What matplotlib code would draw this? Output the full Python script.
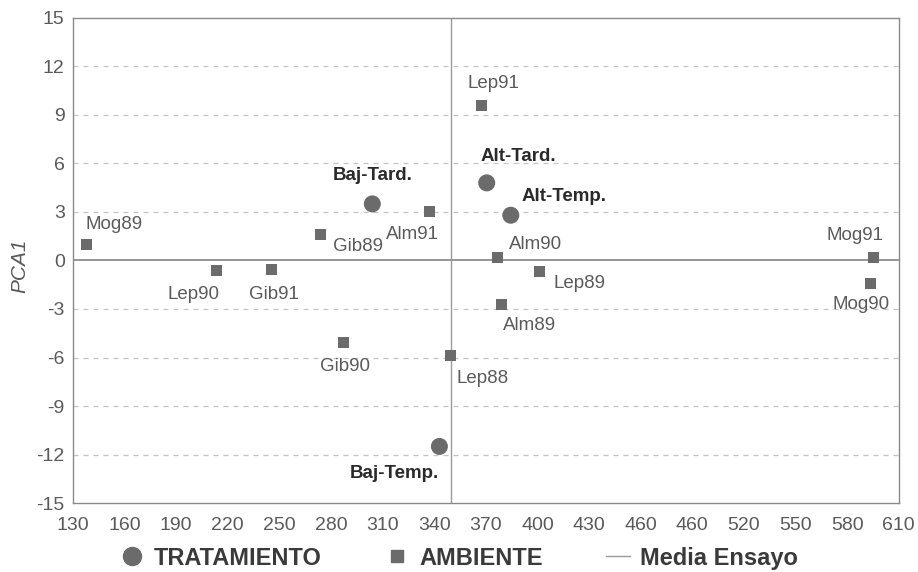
import matplotlib
matplotlib.use("Agg")
import matplotlib.pyplot as plt
from matplotlib.lines import Line2D

plt.rcParams['font.family'] = ['Liberation Sans', 'DejaVu Sans']
plt.rcParams['axes.unicode_minus'] = False

# Treatments (circles)
trat_names = ["Baj-Tard.", "Alt-Tard.", "Alt-Temp.", "Baj-Temp."]
trat_x = [304, 370.5, 384.5, 343]
trat_y = [3.5, 4.8, 2.8, -11.5]

# Environments (squares)
amb_names = ["Mog89", "Lep90", "Gib91", "Gib89", "Alm91", "Gib90", "Lep88",
             "Lep91", "Alm90", "Lep89", "Alm89", "Mog91", "Mog90"]
amb_x = [138, 213.5, 245.5, 274, 337.5, 287, 349.5,
         367.5, 376.5, 401, 379, 595.5, 593.5]
amb_y = [1.0, -0.6, -0.55, 1.6, 3.05, -5.05, -5.9,
         9.6, 0.2, -0.7, -2.7, 0.2, -1.45]

# Trial mean (vertical reference line)
media_ensayo = 350

# Axis ticks
x_ticks = list(range(130, 611, 30))
x_tick_labels = ["130", "160", "190", "220", "250", "280", "310", "340", "370",
                 "400", "430", "460", "460", "520", "550", "580", "610"]
y_ticks = list(range(-15, 16, 3))

# label offsets in pixels (dx, dy), dy positive = up
trat_offsets = {"Baj-Tard.": (0, 28), "Alt-Tard.": (32, 26),
                "Alt-Temp.": (53, 19), "Baj-Temp.": (-45, -27)}
amb_offsets = {"Mog89": (27, 20), "Lep90": (-23, -24), "Gib91": (2, -25),
               "Gib89": (37, -12), "Alm91": (-17, -23), "Gib90": (2, -24),
               "Lep88": (32, -23), "Lep91": (12, 22), "Alm90": (38, 13),
               "Lep89": (40, -12), "Alm89": (28, -21), "Mog91": (-19, 22),
               "Mog90": (-9, -21)}

mark_col = "#6b6b6b"
text_col = "#5a5a5a"

fig = plt.figure(figsize=(9.18, 5.72), dpi=100)
ax = fig.add_axes([0.0795, 0.1206, 0.8995, 0.848])

ax.set_xlim(130, 610)
ax.set_ylim(-15, 15)

for yv in y_ticks:
    if yv not in (-15, 0, 15):
        ax.axhline(yv, color="#c4c4c4", lw=0.9, ls=(0, (4, 4)), zorder=0)
ax.axhline(0, color="#7a7a7a", lw=1.1, zorder=1)
ax.axvline(media_ensayo, color="#9a9a9a", lw=1.0, zorder=1)

ax.scatter(amb_x, amb_y, marker="s", s=62, color=mark_col, edgecolors="none", zorder=3)
ax.scatter(trat_x, trat_y, marker="o", s=150, color=mark_col, edgecolors="none", zorder=3)

for n, x, y in zip(amb_names, amb_x, amb_y):
    dx, dy = amb_offsets[n]
    ax.annotate(n, (x, y), xytext=(dx, dy), textcoords="offset pixels",
                ha="center", va="center", fontsize=13.5, color=text_col)
for n, x, y in zip(trat_names, trat_x, trat_y):
    dx, dy = trat_offsets[n]
    ax.annotate(n, (x, y), xytext=(dx, dy), textcoords="offset pixels",
                ha="center", va="center", fontsize=13.5, color="#2a2a2a",
                fontweight="bold")

ax.set_xticks(x_ticks)
ax.set_xticklabels(x_tick_labels)
ax.set_yticks(y_ticks)
ax.tick_params(length=0, labelsize=14, colors=text_col)
ax.tick_params(axis="x", pad=10)
ax.tick_params(axis="y", pad=6)
for sp in ax.spines.values():
    sp.set_color("#8a8a8a")
    sp.set_linewidth(1.0)

fig.text(20 / 918, 1 - 266 / 572, "PCA1", rotation=90, ha="center", va="center",
         fontsize=15, color=text_col, style="italic")

handles = [
    Line2D([], [], marker="o", ls="none", color=mark_col, markersize=13),
    Line2D([], [], marker="s", ls="none", color=mark_col, markersize=8),
    Line2D([], [], color="#9a9a9a", lw=1.0),
]
leg = fig.legend(handles, ["TRATAMIENTO", "AMBIENTE", "Media Ensayo"],
                 loc="lower center", bbox_to_anchor=(0.5, -0.033), ncol=3,
                 frameon=False, handlelength=1.0, handletextpad=0.42,
                 columnspacing=2.7,
                 prop={"size": 17, "weight": "bold"})
for t in leg.get_texts():
    t.set_color("#3a3a3a")

fig.savefig("out.png", dpi=100, facecolor="white")
